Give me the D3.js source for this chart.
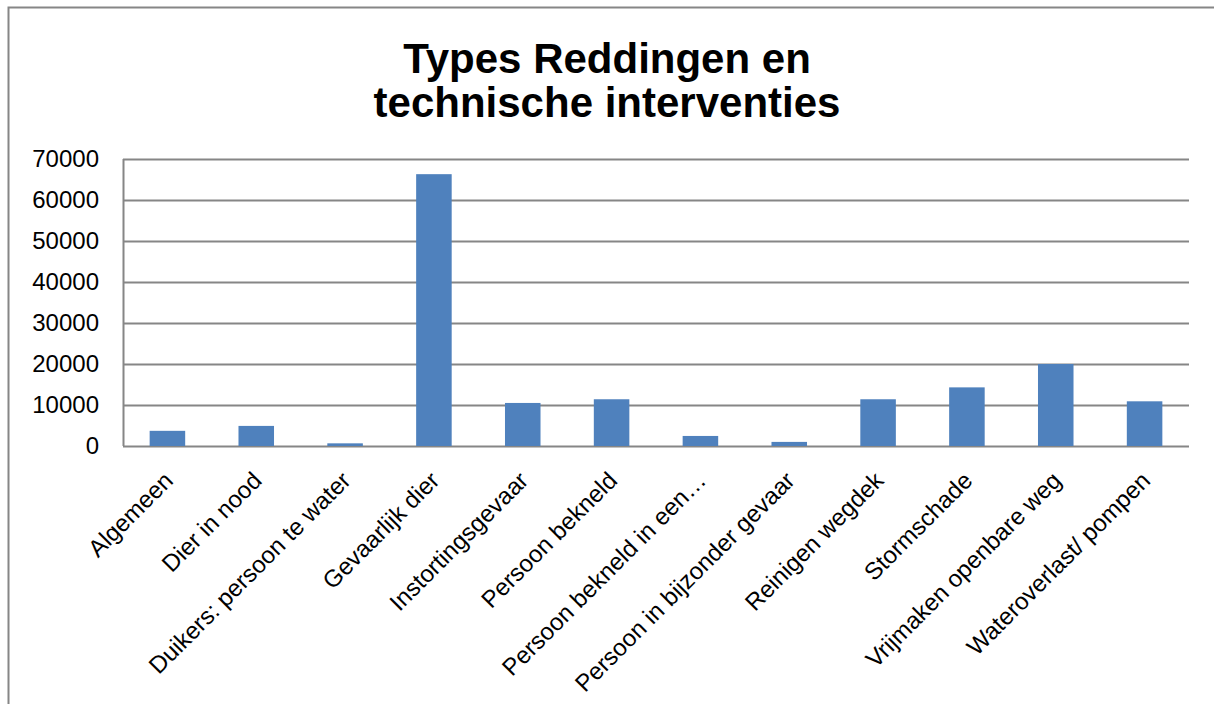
<!DOCTYPE html>
<html>
<head>
<meta charset="utf-8">
<script src="https://cdn.jsdelivr.net/npm/d3@7"></script>
<style>
  body { margin: 0; background: #fff; }
  text { font-family: Arial, "Liberation Sans", sans-serif; fill: #000; }
</style>
</head>
<body>
<div id="chart"></div>
<script>
// data
var categories = ["Algemeen", "Dier in nood", "Duikers: persoon te water", "Gevaarlijk dier",
  "Instortingsgevaar", "Persoon bekneld", "Persoon bekneld in een\u2026",
  "Persoon in bijzonder gevaar", "Reinigen wegdek", "Stormschade",
  "Vrijmaken openbare weg", "Wateroverlast/ pompen"];
var values = [3700, 4900, 650, 66300, 10500, 11400, 2450, 1000, 11400, 14300, 20000, 10900];
var yTicks = [0, 10000, 20000, 30000, 40000, 50000, 60000, 70000];
var titleLines = ["Types Reddingen en", "technische interventies"];

var largeur = 1214, hauteur = 704;
var margin = {left: 123, right: 25, top: 159, bottom: 258};

var svg = d3.select("#chart").append("svg")
  .attr("width", largeur)
  .attr("height", hauteur);

// cadre du graphique
svg.append("rect")
  .attr("x", 8.5).attr("y", 7.5)
  .attr("width", 1300).attr("height", 800)
  .attr("fill", "none")
  .attr("stroke", "#868686")
  .attr("stroke-width", 2);

// titre
svg.append("text")
  .attr("text-anchor", "middle")
  .style("font-size", "42px")
  .style("font-weight", "bold")
  .selectAll("tspan")
  .data(titleLines)
  .enter().append("tspan")
  .attr("x", 607)
  .attr("y", function(d, i) { return 73 + i * 44; })
  .text(function(d) { return d; });

var x = d3.scaleBand()
  .domain(categories)
  .range([margin.left, largeur - margin.right])
  .paddingInner(0.6)
  .paddingOuter(0.3);

var y = d3.scaleLinear()
  .domain([0, 70000])
  .range([hauteur - margin.bottom, margin.top]);

// grille
svg.append("g")
  .selectAll("line")
  .data(yTicks)
  .enter().append("line")
  .attr("x1", margin.left).attr("x2", largeur - margin.right)
  .attr("y1", function(d) { return Math.round(y(d)) + 0.5; })
  .attr("y2", function(d) { return Math.round(y(d)) + 0.5; })
  .attr("stroke", "#868686")
  .attr("stroke-width", 2);

// axe vertical
svg.append("line")
  .attr("x1", margin.left + 0.5).attr("x2", margin.left + 0.5)
  .attr("y1", y(70000)).attr("y2", y(0))
  .attr("stroke", "#868686")
  .attr("stroke-width", 2);

// barres
svg.append("g")
  .selectAll("rect")
  .data(values)
  .enter().append("rect")
  .attr("x", function(d, i) { return x(categories[i]); })
  .attr("width", x.bandwidth())
  .attr("y", function(d) { return y(d); })
  .attr("height", function(d) { return y(0) - y(d); })
  .attr("fill", "#4f81bd");

// étiquettes de l'axe y
var yAxis = svg.append("g")
  .attr("transform", "translate(" + (margin.left - 24) + ",0)")
  .call(d3.axisLeft(y).tickValues(yTicks).tickSize(0).tickPadding(0).tickFormat(d3.format("d")));
yAxis.select(".domain").remove();
yAxis.attr("font-family", null).attr("font-size", null);
yAxis.selectAll("text")
  .style("font-size", "24px")
  .attr("dx", 0);

// étiquettes de l'axe x
var xAxis = svg.append("g")
  .attr("transform", "translate(0," + y(0) + ")")
  .call(d3.axisBottom(x).tickSize(0).tickPadding(0));
xAxis.select(".domain").remove();
xAxis.attr("font-family", null).attr("font-size", null);
xAxis.selectAll("text")
  .style("font-size", "24px")
  .attr("text-anchor", "end")
  .attr("dy", null)
  .attr("y", 0)
  .attr("transform", "translate(7,36) rotate(-45)");
</script>
</body>
</html>
